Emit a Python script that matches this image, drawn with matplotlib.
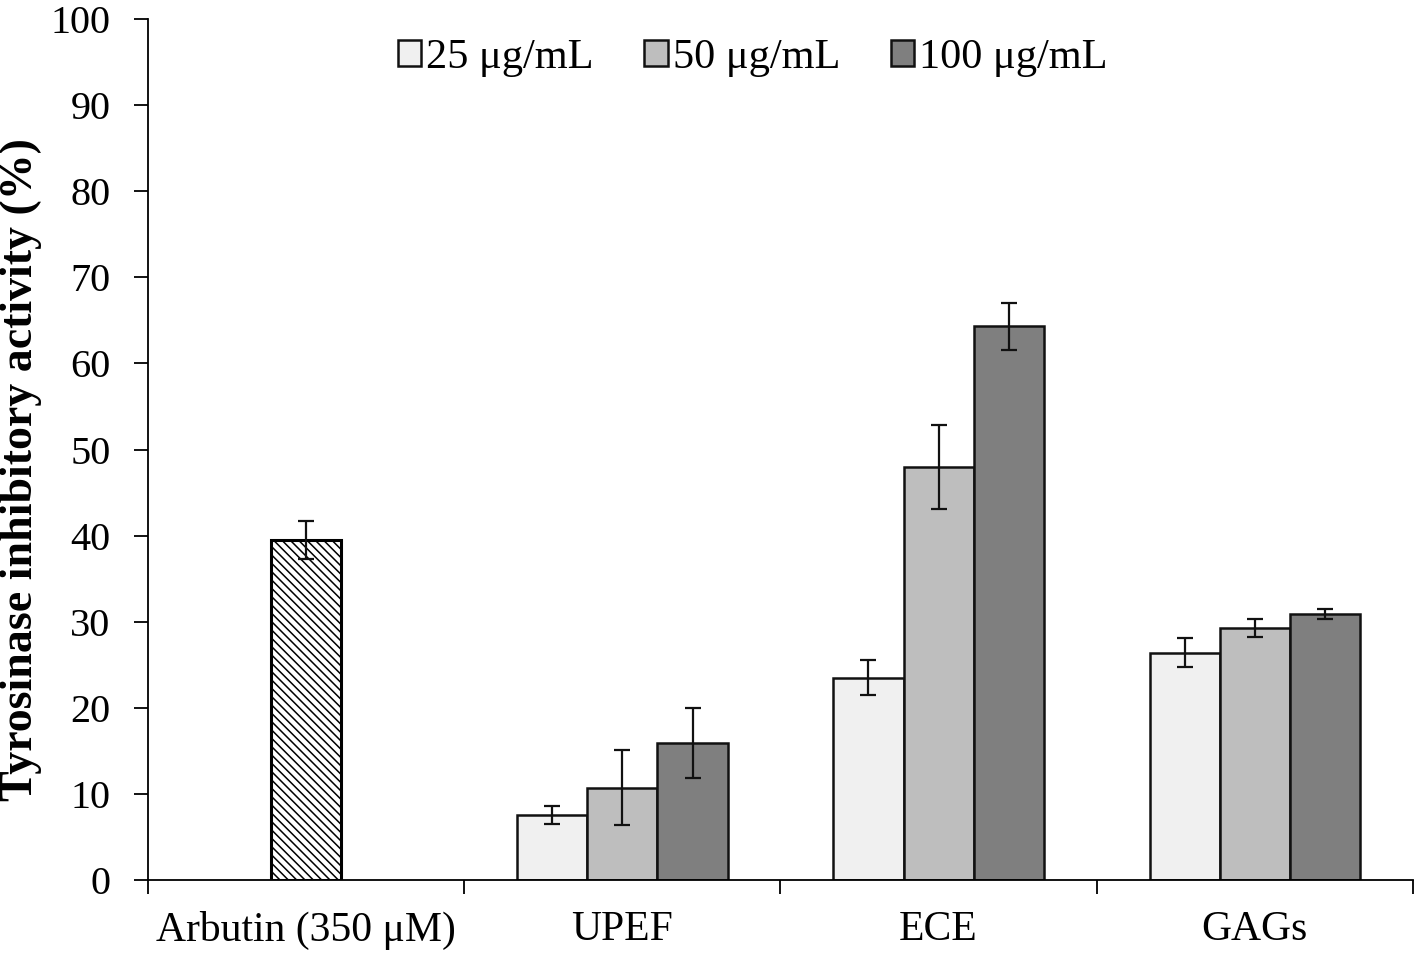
import matplotlib
matplotlib.use("Agg")
import matplotlib.pyplot as plt
import numpy as np

#
# data
#
categories = ['Arbutin (350 μM)', 'UPEF', 'ECE', 'GAGs']
series_labels = ['25 μg/mL', '50 μg/mL', '100 μg/mL']
series_colors = ['#f0f0f0', '#bebebe', '#7f7f7f']

arbutin_mean = 39.5
arbutin_err = 2.2

# rows: 25, 50, 100 ug/mL ; columns: UPEF, ECE, GAGs
extract_means = [
  [7.5, 23.5, 26.4],
  [10.7, 48.0, 29.3],
  [15.9, 64.3, 30.9],
]
extract_errs = [
  [1.05, 2.0, 1.65],
  [4.35, 4.9, 1.05],
  [4.1, 2.7, 0.6],
]

plt.rcParams['font.family'] = ['Liberation Serif', 'DejaVu Serif']
plt.rcParams['hatch.linewidth'] = 1.1

fig = plt.figure(figsize=(14.18, 9.59), dpi=100)
ax = fig.add_axes([148 / 1418, 79 / 959, 1265 / 1418, 861 / 959])

width = 0.222
err_kw = dict(ecolor='#111111', elinewidth=1.6, capsize=5.5, capthick=1.6)

# arbutin reference bar
ax.bar(0, arbutin_mean, width, yerr=arbutin_err, color='white', edgecolor='black',
       linewidth=2.2, hatch='\\\\\\\\', error_kw=err_kw, zorder=2)

x = np.arange(1, len(categories))
for i, lab in enumerate(series_labels):
  ax.bar(x + (i - 1) * width, extract_means[i], width, yerr=extract_errs[i],
         color=series_colors[i], edgecolor='#111111', linewidth=1.8,
         error_kw=err_kw, label=lab, zorder=2)

ax.set_xlim(-0.5, len(categories) - 0.5)
ax.set_ylim(0, 100)
ax.set_yticks(np.arange(0, 101, 10))
ax.tick_params(axis='y', labelsize=29, length=10, width=1.3, pad=17, direction='out')

ax.set_xticks(np.arange(-0.5, len(categories)), minor=False)
ax.set_xticklabels([])
ax.set_xticks(np.arange(len(categories)), minor=True)
ax.set_xticklabels(categories, minor=True)
ax.tick_params(axis='x', which='major', length=10, width=1.3, direction='out')
ax.tick_params(axis='x', which='minor', length=0, labelsize=30, pad=22)

for s in ['top', 'right']:
  ax.spines[s].set_visible(False)
for s in ['left', 'bottom']:
  ax.spines[s].set_linewidth(1.3)

fig.text(21 / 1418, 1 - 470 / 959, 'Tyrosinase inhibitory activity (%)', rotation=90,
         fontsize=33, fontweight='bold', ha='center', va='center')

ax.legend(loc='center', bbox_to_anchor=(0.478, 0.955), ncol=3, frameon=False,
          fontsize=30.5, handlelength=0.55, handleheight=0.55, handletextpad=0.12,
          columnspacing=1.2)

fig.savefig('out.png', dpi=100)
